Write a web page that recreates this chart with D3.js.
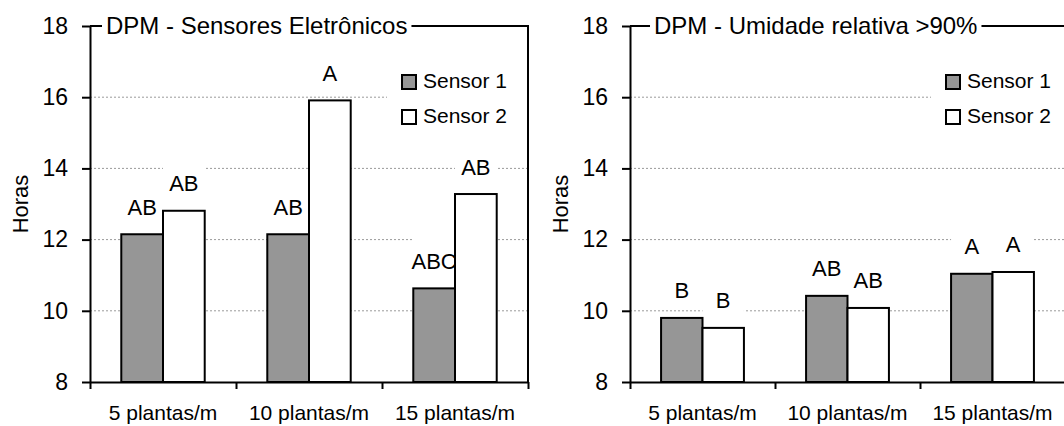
<!DOCTYPE html>
<html>
<head>
<meta charset="utf-8">
<script src="https://cdn.jsdelivr.net/npm/d3@7"></script>
<style>
  html, body { margin: 0; padding: 0; background: #fff; }
  svg { display: block; font-family: "Liberation Sans", Arial, sans-serif; }
  .grid { stroke: #9a9a9a; stroke-width: 1; stroke-dasharray: 2 2; }
  .axis path, .axis line { stroke: #000; stroke-width: 2; }
  .axis text { font-size: 23px; fill: #000; font-family: "Liberation Sans", Arial, sans-serif; }
</style>
</head>
<body>
<svg id="chart" width="1064" height="426"></svg>
<script>
// Categories, series and axis ticks
const categories = ["5 plantas/m", "10 plantas/m", "15 plantas/m"];
const seriesNames = ["Sensor 1", "Sensor 2"];
const seriesColors = ["#969696", "#ffffff"];
const yTicks = [8, 10, 12, 14, 16, 18];
const gridTicks = [10, 12, 14, 16];

// Panel 1: leaf wetness duration from the electronic sensors (hours)
const sensoresTitle = "DPM - Sensores Eletrônicos";
const sensoresSensor1 = [12.15, 12.15, 10.63];
const sensoresSensor2 = [12.81, 15.91, 13.28];
const sensoresLetters1 = ["AB", "AB", "ABC"];
const sensoresLetters2 = ["AB", "A", "AB"];

// Panel 2: leaf wetness duration from relative humidity > 90% (hours)
const umidadeTitle = "DPM - Umidade relativa >90%";
const umidadeSensor1 = [9.80, 10.42, 11.04];
const umidadeSensor2 = [9.52, 10.08, 11.09];
const umidadeLetters1 = ["B", "AB", "A"];
const umidadeLetters2 = ["B", "AB", "A"];

const yLabel = "Horas";

const svg = d3.select("#chart");
const TOP = 26, BOTTOM = 382;

function drawPanel(opts) {
  const { title, vals1, vals2, letters1, letters2, left, right, legendX, titleX } = opts;
  const g = svg.append("g");
  const y = d3.scaleLinear().domain([8, 18]).range([BOTTOM, TOP]);
  const x0 = d3.scaleBand().domain(categories).range([left, right]).padding(0);
  // 150% gap width between clusters
  const x1 = d3.scaleBand().domain(seriesNames).range([0, x0.bandwidth()])
    .paddingInner(0).paddingOuter(0.75);
  const values = [vals1, vals2];
  const letters = [letters1, letters2];

  const cells = [];
  categories.forEach((c, i) => {
    seriesNames.forEach((s, j) => {
      cells.push({ c, s, j, v: values[j][i], t: letters[j][i] });
    });
  });

  // dotted gridlines
  g.selectAll(".grid").data(gridTicks).enter().append("line")
    .attr("class", "grid")
    .attr("x1", left).attr("x2", right)
    .attr("y1", d => y(d)).attr("y2", d => y(d));

  // white boxes behind the significance letters
  const labelOffset = 19.5;
  g.selectAll(".lblbg").data(cells).enter().append("rect")
    .attr("x", d => x0(d.c) + x1(d.s))
    .attr("width", x1.bandwidth())
    .attr("y", d => y(d.v) - labelOffset - 32)
    .attr("height", 38)
    .attr("fill", "#fff");

  g.selectAll(".lbl").data(cells).enter().append("text")
    .attr("x", d => x0(d.c) + x1(d.s) + x1.bandwidth() / 2)
    .attr("y", d => y(d.v) - labelOffset)
    .attr("text-anchor", "middle")
    .attr("font-size", 22)
    .text(d => d.t);

  // bars
  g.selectAll(".bar").data(cells).enter().append("rect")
    .attr("x", d => x0(d.c) + x1(d.s))
    .attr("width", x1.bandwidth())
    .attr("y", d => y(d.v))
    .attr("height", d => y(8) - y(d.v))
    .attr("fill", d => seriesColors[d.j])
    .attr("stroke", "#000")
    .attr("stroke-width", 2);

  // legend
  g.append("rect")
    .attr("x", legendX - 15).attr("y", 58)
    .attr("width", right - (legendX - 15)).attr("height", 82)
    .attr("fill", "#fff");
  seriesNames.forEach((s, j) => {
    const ly = 75 + j * 35;
    g.append("rect")
      .attr("x", legendX).attr("y", ly)
      .attr("width", 14).attr("height", 14)
      .attr("fill", seriesColors[j])
      .attr("stroke", "#000").attr("stroke-width", 2);
    g.append("text")
      .attr("x", legendX + 21).attr("y", ly + 13)
      .attr("font-size", 21)
      .text(s);
  });

  // plot frame (top and right)
  g.append("path")
    .attr("d", `M${left},${TOP}H${right}V${BOTTOM}`)
    .attr("fill", "none").attr("stroke", "#000").attr("stroke-width", 2);

  // y axis
  const yAxis = d3.axisLeft(y).tickValues(yTicks).tickSize(8).tickSizeOuter(0).tickPadding(14);
  g.append("g").attr("class", "axis")
    .attr("transform", `translate(${left},0)`)
    .call(yAxis);

  // x axis: ticks at cluster boundaries, labels at cluster centres
  const xb = d3.scaleLinear().domain([0, categories.length]).range([left, right]);
  const xAxis = d3.axisBottom(xb).tickValues(d3.range(categories.length + 1))
    .tickSize(7).tickSizeOuter(0).tickFormat("");
  g.append("g").attr("class", "axis")
    .attr("transform", `translate(0,${BOTTOM})`)
    .call(xAxis);
  g.selectAll(".xl").data(categories).enter().append("text")
    .attr("x", d => x0(d) + x0.bandwidth() / 2)
    .attr("y", 420)
    .attr("text-anchor", "middle")
    .attr("font-size", 21)
    .text(d => d);

  // y axis title
  g.append("text")
    .attr("transform", `translate(${left - 62},${(TOP + BOTTOM) / 2}) rotate(-90)`)
    .attr("text-anchor", "middle")
    .attr("font-size", 22)
    .text(yLabel);

  // chart title sitting on the top frame line
  const tt = g.append("text")
    .attr("x", titleX).attr("y", TOP + 8)
    .attr("font-size", 24)
    .text(title);
  const bb = tt.node().getBBox();
  g.insert("rect", () => tt.node())
    .attr("x", bb.x - 4).attr("y", bb.y)
    .attr("width", bb.width + 8).attr("height", bb.height)
    .attr("fill", "#fff");
}

drawPanel({
  title: sensoresTitle, vals1: sensoresSensor1, vals2: sensoresSensor2,
  letters1: sensoresLetters1, letters2: sensoresLetters2,
  left: 90, right: 528, legendX: 402, titleX: 106
});
drawPanel({
  title: umidadeTitle, vals1: umidadeSensor1, vals2: umidadeSensor2,
  letters1: umidadeLetters1, letters2: umidadeLetters2,
  left: 630, right: 1065, legendX: 946, titleX: 654
});
</script>
</body>
</html>
